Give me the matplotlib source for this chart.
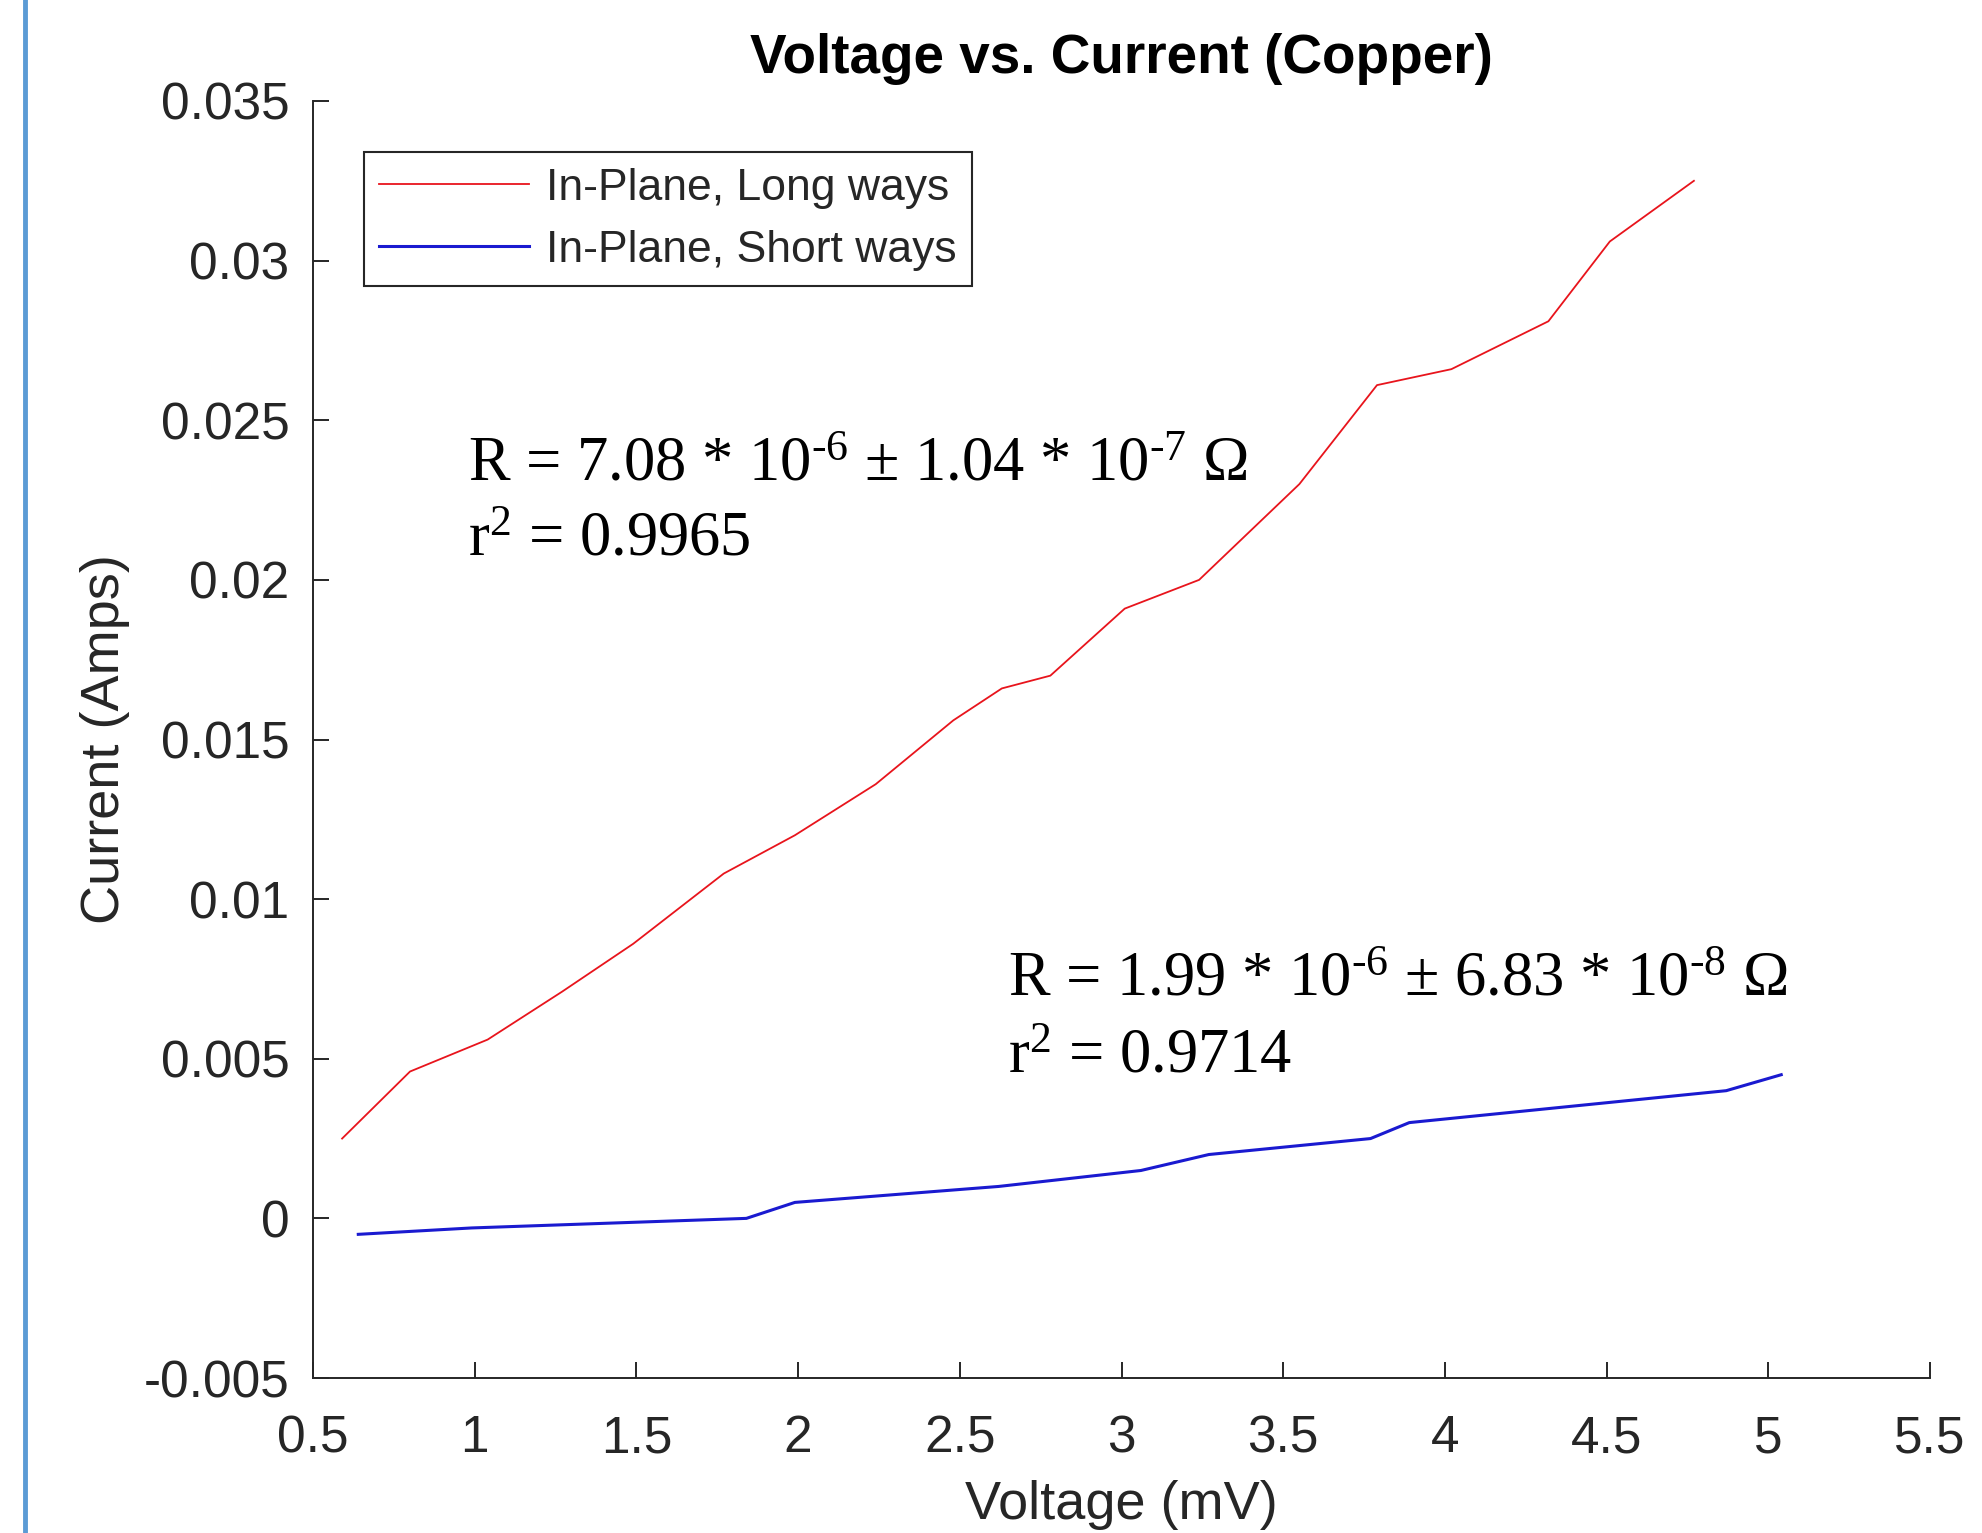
import matplotlib
matplotlib.use("Agg")
import matplotlib.pyplot as plt
from matplotlib.ticker import FixedLocator, FixedFormatter

# ── data ─────────────────────────────────────────────────────────────
long_v = [0.59, 0.80, 1.04, 1.27, 1.49, 1.77, 1.99, 2.24, 2.48, 2.63,
          2.78, 3.01, 3.24, 3.55, 3.79, 4.02, 4.32, 4.51, 4.77]
long_i = [0.0025, 0.0046, 0.0056, 0.0071, 0.0086, 0.0108, 0.0120, 0.0136,
          0.0156, 0.0166, 0.0170, 0.0191, 0.0200, 0.0230, 0.0261, 0.0266,
          0.0281, 0.0306, 0.0325]

short_v = [0.64, 0.99, 1.84, 1.99, 2.62, 3.06, 3.27, 3.77, 3.89, 4.87, 5.04]
short_i = [-0.0005, -0.0003, 0.0000, 0.0005, 0.0010, 0.0015, 0.0020,
           0.0025, 0.0030, 0.0040, 0.0045]

series_names = ["In-Plane, Long ways", "In-Plane, Short ways"]

x_ticks = [0.5, 1, 1.5, 2, 2.5, 3, 3.5, 4, 4.5, 5, 5.5]
x_labels = ["0.5", "1", "1.5", "2", "2.5", "3", "3.5", "4", "4.5", "5", "5.5"]
y_ticks = [-0.005, 0, 0.005, 0.01, 0.015, 0.02, 0.025, 0.03, 0.035]
y_labels = ["-0.005", "0", "0.005", "0.01", "0.015", "0.02", "0.025",
            "0.03", "0.035"]

# ── style ────────────────────────────────────────────────────────────
AX_CLR = "#262626"
plt.rcParams["font.family"] = ["Liberation Sans", "DejaVu Sans"]
plt.rcParams["mathtext.fontset"] = "custom"
plt.rcParams["mathtext.rm"] = "Liberation Serif"
plt.rcParams["mathtext.it"] = "Liberation Serif:italic"
plt.rcParams["mathtext.bf"] = "Liberation Serif:bold"

fig = plt.figure(figsize=(19.82, 15.33), dpi=100)
fig.patch.set_facecolor("white")
ax = fig.add_axes([313 / 1982, 1 - 1378 / 1533,
                   (1930 - 313) / 1982, (1378 - 101) / 1533])

# left blue page rule
fig.add_artist(plt.Line2D([25 / 1982, 25 / 1982], [0, 1],
                          transform=fig.transFigure, color="#5B9BD5", lw=3.5))

ax.plot(long_v, long_i, color="#E8141C", lw=1.3, label=series_names[0])
ax.plot(short_v, short_i, color="#1A1AD0", lw=2.2, label=series_names[1])

ax.set_xlim(0.5, 5.5)
ax.set_ylim(-0.005, 0.035)
ax.xaxis.set_major_locator(FixedLocator(x_ticks))
ax.xaxis.set_major_formatter(FixedFormatter(x_labels))
ax.yaxis.set_major_locator(FixedLocator(y_ticks))
ax.yaxis.set_major_formatter(FixedFormatter(y_labels))

for s in ["top", "right"]:
    ax.spines[s].set_visible(False)
for s in ["left", "bottom"]:
    ax.spines[s].set_color(AX_CLR)
    ax.spines[s].set_linewidth(1.4)
ax.tick_params(direction="in", length=11.5, width=1.4, colors=AX_CLR,
               labelsize=37, labelcolor=AX_CLR)
ax.tick_params(axis="y", pad=17)
ax.tick_params(axis="x", pad=26)

ax.set_xlabel("Voltage (mV)", fontsize=39, color=AX_CLR, va="center")
ax.xaxis.set_label_coords(0.5, -0.0995)
ax.set_ylabel("Current (Amps)", fontsize=39, color=AX_CLR, va="center")
ax.yaxis.set_label_coords(-0.1286, 0.5)
ax.set_title("Voltage vs. Current (Copper)", fontsize=39.5, fontweight="bold",
             color="black", y=1.0330, va="center", pad=0)

leg = ax.legend(loc="upper left", bbox_to_anchor=(0.0315, 0.96),
                fontsize=32, handlelength=3.36, handletextpad=0.38,
                borderpad=0.35, labelspacing=0.47, fancybox=False,
                framealpha=1, edgecolor=AX_CLR, borderaxespad=0)
leg.get_frame().set_linewidth(1.5)
for t in leg.get_texts():
    t.set_color(AX_CLR)

# fit annotations
ann_kw = dict(transform=ax.transAxes, fontsize=45, family="Liberation Serif",
              color="black", va="baseline", ha="left")
ax.text(0.0959, 0.703,
        r"R = 7.08 * 10$^{\text{-6}}$ ± 1.04 * 10$^{\text{-7}}$ Ω", **ann_kw)
ax.text(0.0959, 0.6437, r"r$^{2}$ = 0.9965", **ann_kw)
ax.text(0.4295, 0.2999,
        r"R = 1.99 * 10$^{\text{-6}}$ ± 6.83 * 10$^{\text{-8}}$ Ω", **ann_kw)
ax.text(0.4295, 0.2396, r"r$^{2}$ = 0.9714", **ann_kw)

fig.savefig("out.png", dpi=100, facecolor="white")
